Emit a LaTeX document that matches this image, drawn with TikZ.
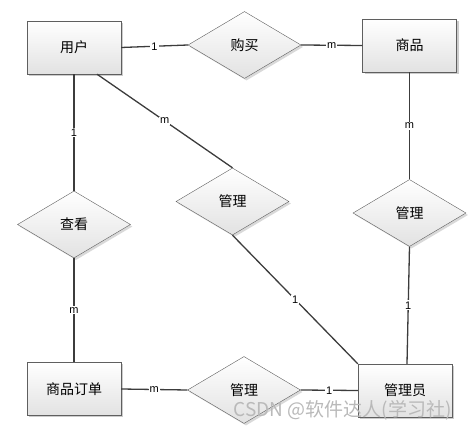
\documentclass[tikz,border=0pt]{standalone}
\usepackage{fontspec}
\setmainfont{Noto Sans CJK SC}
\newfontfamily\cardfont{Liberation Sans}
\usetikzlibrary{shapes.geometric, shadows, positioning}
\definecolor{linkgray}{RGB}{60,60,60}
\definecolor{framegray}{RGB}{95,95,95}
\definecolor{shadegray}{RGB}{226,226,226}
\tikzset{
  entity/.style={rectangle, draw=framegray, top color=white, bottom color=shadegray,
    minimum width=94pt, minimum height=53pt, inner sep=0pt,
    font=\fontsize{14}{16}\selectfont,
    drop shadow={shadow xshift=2pt, shadow yshift=-2pt, opacity=0.2, fill=black}},
  relation/.style={diamond, draw=framegray, top color=white, bottom color=shadegray,
    minimum width=113pt, minimum height=67pt, inner sep=0pt,
    font=\fontsize{14}{16}\selectfont,
    drop shadow={shadow xshift=2pt, shadow yshift=-2pt, opacity=0.15, fill=black}},
  link/.style={draw=linkgray, line width=1.3pt},
  card/.style={midway, fill=white, inner sep=1pt, font=\cardfont\fontsize{11}{13}\selectfont}
}

\begin{document}
\begin{tikzpicture}[x=1pt, y=-1pt]
\useasboundingbox (0,0) rectangle (469,430);

% entities
\node[entity] (user) at (74,47.5) {用户};
\node[entity] (goods) at (409.5,45.5) {商品};
\node[entity] (order) at (74,389) {商品订单};
\node[entity] (admin) at (405,390.5) {管理员};

% relationships
\node[relation] (buy) at (244.5,45) {购买};
\node[relation] (view) at (74,224.5) {查看};
\node[relation] (mguser) at (232.5,201.5) {管理};
\node[relation] (mggoods) at (409.5,213) {管理};
\node[relation] (mgorder) at (244,390) {管理};

% links
\draw[link] (user.east) -- node[card] {1} (buy.west);
\draw[link] (buy.east) -- node[card] {m} (goods.west);
\draw[link] (user.south) -- node[card] {1} (view.north);
\draw[link] ([xshift=23pt]user.south) -- node[card] {m} (mguser.north);
\draw[link] (view.south) -- node[card] {m} (order.north);
\draw[link] (mguser.south) -- node[card] {1} (admin.north west);
\draw[link] (goods.south) -- node[card] {m} (mggoods.north);
\draw[link] (mggoods.south) -- node[card] {1} ([xshift=2pt]admin.north);
\draw[link] (order.east) -- node[card] {m} (mgorder.west);
\draw[link] (mgorder.east) -- node[card] {1} (admin.west);

% watermark
\node[anchor=east, text=gray!55, font=\fontsize{19}{21}\selectfont] (mark) at (455,410) {CSDN @软件达人(学习社)};
\end{tikzpicture}
\end{document}
